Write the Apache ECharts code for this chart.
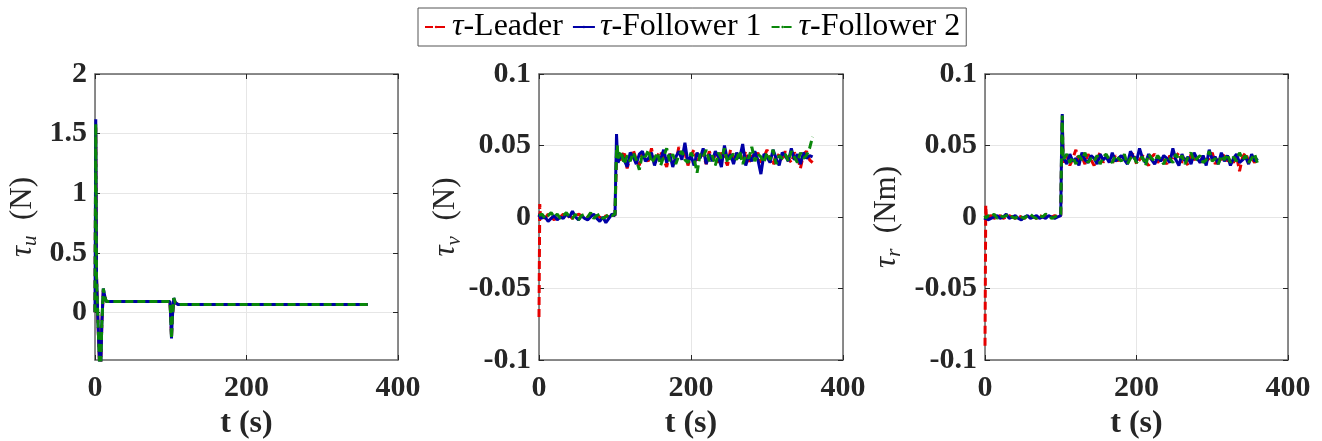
<!DOCTYPE html>
<html>
<head>
<meta charset="utf-8">
<script src="https://cdn.jsdelivr.net/npm/echarts@6.0.0/dist/echarts.min.js"></script>
<style>
  html, body { margin: 0; padding: 0; background: #fff; }
  #main { width: 1322px; height: 441px; }
</style>
</head>
<body>
<div id="main"></div>
<script>
// 图例名称
var seriesNames = ['τ-Leader', 'τ-Follower 1', 'τ-Follower 2'];

// 第一幅图: τu (N)
var tU = [0, 1, 2, 4, 7, 9, 11, 13, 15, 20, 99, 100, 101, 102, 104, 106, 110, 200, 360];
var tauU_leader = [0, 1.55, 0.3, -0.1, -0.6, -0.1, 0.19, 0.13, 0.09, 0.09, 0.09, -0.05, -0.21, -0.05, 0.11, 0.08, 0.065, 0.065, 0.065];
var tauU_f1 = [0, 1.62, 0.3, -0.1, -0.6, -0.1, 0.2, 0.13, 0.09, 0.09, 0.09, -0.05, -0.22, -0.05, 0.12, 0.08, 0.065, 0.065, 0.065];
var tauU_f2 = [0, 1.58, 0.3, -0.1, -0.6, -0.1, 0.2, 0.13, 0.09, 0.09, 0.09, -0.05, -0.22, -0.05, 0.12, 0.08, 0.065, 0.065, 0.065];
var tauU_ticks = [0, 0.5, 1, 1.5, 2];

// 第二、三幅图的时间轴 (s)
var tVR = [0, 1, 2,
  4, 8, 12, 16, 20, 24, 28, 32, 36, 40, 44, 48, 52, 56, 60, 64, 68, 72, 76, 80, 84, 88, 92, 96, 100,
  101, 102, 103,
  104, 108, 112, 116, 120, 124, 128, 132, 136, 140, 144, 148, 152, 156, 160, 164, 168, 172, 176, 180,
  184, 188, 192, 196, 200, 204, 208, 212, 216, 220, 224, 228, 232, 236, 240, 244, 248, 252, 256, 260,
  264, 268, 272, 276, 280, 284, 288, 292, 296, 300, 304, 308, 312, 316, 320, 324, 328, 332, 336, 340,
  344, 348, 352, 356, 360];

// 第二幅图: τv, 单位 mN
var tauV_leader_mN = [-70, 9, -1,
  1, -1, 2, 0, -2, 1, 0, 2, -1, 1, -1, 0, 2, 1, -1, 0, 2, -1, 1, 0, -2, 1, 0, 2, 1,
  22, 44, 47,
  44, 38, 46, 34, 42, 47, 40, 36, 45, 41, 39, 48, 37, 43, 46, 40, 35, 44, 42, 38, 49, 41, 45, 36, 43,
  47, 39, 42, 44, 37, 46, 40, 43, 38, 45, 41, 36, 47, 42, 39, 44, 40, 46, 37, 43, 41, 45, 38, 42, 47,
  40, 36, 44, 43, 39, 46, 41, 38, 45, 42, 34, 44, 46, 40, 38];
var tauV_f1_mN = [0, 2, -1,
  -2, 0, -3, -1, 1, -2, 0, -1, 2, 0, 4, 0, -2, 1, -1, -2, 0, 2, -1, -3, 0, -4, -1, 2, 1,
  30, 58, 46,
  38, 44, 40, 35, 45, 42, 37, 44, 46, 39, 41, 45, 36, 43, 40, 47, 38, 44, 35, 42, 46, 40, 52, 38, 43,
  36, 45, 41, 48, 37, 44, 39, 46, 42, 35, 50, 40, 44, 37, 45, 41, 51, 36, 43, 39, 46, 40, 30, 44, 42,
  38, 47, 41, 36, 45, 43, 39, 48, 40, 44, 37, 45, 41, 43, 42];
var tauV_f2_mN = [1, 0, 2,
  2, -1, 1, 3, 0, 2, -1, 1, 3, 0, -1, 2, -2, 1, 2, 0, 3, -1, 1, 2, -1, 0, 2, 1, 2,
  26, 47, 50,
  41, 46, 37, 43, 39, 45, 40, 33, 44, 42, 47, 38, 41, 45, 36, 42, 48, 39, 44, 37, 43, 46, 40, 38, 45,
  41, 31, 44, 42, 47, 39, 43, 36, 45, 41, 48, 38, 42, 44, 40, 46, 37, 43, 41, 49, 39, 44, 42, 38, 45,
  40, 47, 37, 43, 41, 44, 39, 46, 42, 38, 45, 41, 43, 48, 56];

// 第三幅图: τr, 单位 mNm
var tauR_leader_mNm = [-90, 8, -1,
  0, 1, -1, 0, 1, -1, 0, 1, 0, -1, 1, 0, -1, 1, 0, 0, -1, 1, 0, 1, -1, 0, 1, 0, 1,
  40, 68, 44,
  38, 43, 36, 41, 47, 39, 42, 37, 44, 40, 36, 41, 45, 38, 42, 40, 37, 43, 39, 44, 41, 38, 42, 45, 37,
  40, 43, 39, 36, 42, 44, 38, 41, 40, 37, 43, 39, 42, 45, 38, 41, 36, 44, 40, 42, 38, 43, 39, 41, 45,
  37, 42, 40, 44, 39, 41, 38, 43, 32, 42, 45, 39, 41, 38, 43];
var tauR_f1_mNm = [-2, 0, 1,
  -2, -1, 0, 1, -1, 0, 2, -1, 0, 1, -1, -2, 0, 1, -1, 0, 1, -1, 0, -1, 1, 0, -1, 0, 1,
  45, 72, 42,
  42, 37, 44, 39, 41, 36, 45, 40, 38, 43, 41, 37, 44, 40, 42, 38, 45, 39, 41, 43, 40, 37, 46, 42, 39,
  48, 41, 38, 44, 40, 37, 42, 39, 43, 41, 38, 48, 40, 36, 44, 39, 42, 37, 45, 41, 38, 43, 36, 47, 40,
  42, 37, 45, 39, 43, 36, 41, 44, 38, 40, 42, 37, 44, 39, 41];
var tauR_f2_mNm = [1, -1, 0,
  1, 0, 2, -1, 1, 0, 1, 2, 0, -1, 1, 0, -1, 1, 2, 0, -1, 1, 0, 2, 1, -1, 0, 1, 2,
  44, 71, 40,
  40, 44, 38, 42, 37, 43, 40, 45, 38, 41, 39, 43, 37, 42, 44, 40, 38, 43, 41, 39, 44, 37, 41, 43, 38,
  40, 42, 36, 44, 41, 39, 43, 40, 37, 42, 41, 38, 44, 40, 43, 37, 42, 45, 39, 41, 43, 38, 40, 46, 39,
  41, 37, 43, 40, 44, 38, 42, 39, 45, 40, 43, 38, 41, 44, 37];

var colors = ['#e60000', '#0000a6', '#0a870a'];
var lineTypes = [[8, 4], 'solid', [8, 4]];

var chartEle = echarts.init(document.getElementById('main'));

function pairs(t, v, scale) {
  return t.map(function (x, i) { return [x, v[i] * scale]; });
}

// 网格位置
var grids = [
  { left: 95, right: 924, top: 74, bottom: 81, outerBoundsMode: 'none' },
  { left: 539, right: 479, top: 74, bottom: 81, outerBoundsMode: 'none' },
  { left: 985, right: 34, top: 74, bottom: 81, outerBoundsMode: 'none' }
];

var tickFont = { fontFamily: 'Liberation Serif', fontWeight: 'bold', fontSize: 30, color: '#262626' };
var boxLine = { show: true, onZero: false, lineStyle: { color: '#666', width: 1.5 } };
var tickStyle = { show: true, inside: true, length: 5, lineStyle: { color: '#262626', width: 1 } };

function yName(sub, unit) {
  return '{t|τ}{s|' + sub + '}{n|  (' + unit + ')}';
}
var nameRich = {
  t: { fontFamily: 'Liberation Serif', fontStyle: 'italic', fontSize: 31, color: '#262626' },
  s: { fontFamily: 'Liberation Serif', fontStyle: 'italic', fontSize: 21, color: '#262626', padding: [16, 0, 0, 0] },
  n: { fontFamily: 'Liberation Serif', fontSize: 31, color: '#262626' }
};

var xAxes = [];
var yAxes = [];
var yCfg = [
  { min: -0.4, max: 2, name: yName('u', 'N'), gap: 54, custom: tauU_ticks },
  { min: -0.1, max: 0.1, interval: 0.05, name: yName('v', 'N'), gap: 74 },
  { min: -0.1, max: 0.1, interval: 0.05, name: yName('r', 'Nm'), gap: 80 }
];
grids.forEach(function (g, i) {
  xAxes.push({
    gridIndex: i, type: 'value', min: 0, max: 400, interval: 200, position: 'bottom',
    name: 't (s)', nameLocation: 'middle', nameGap: 48,
    nameTextStyle: { fontFamily: 'Liberation Serif', fontWeight: 'bold', fontSize: 32, color: '#262626' },
    axisLine: boxLine, axisTick: tickStyle,
    axisLabel: Object.assign({ margin: 13 }, tickFont),
    splitLine: { show: true, lineStyle: { color: '#e6e6e6', width: 1 } }
  });
  xAxes.push({
    gridIndex: i, type: 'value', min: 0, max: 400, interval: 200, position: 'top',
    axisLine: boxLine, axisTick: tickStyle, axisLabel: { show: false }, splitLine: { show: false }
  });
  var c = yCfg[i];
  var leftY = {
    gridIndex: i, type: 'value', min: c.min, max: c.max, position: 'left',
    name: c.name, nameLocation: 'middle', nameRotate: 90, nameGap: c.gap,
    nameTextStyle: { rich: nameRich },
    axisLine: boxLine,
    axisTick: Object.assign({}, tickStyle),
    axisLabel: Object.assign({ margin: 8 }, tickFont),
    splitLine: { show: true, lineStyle: { color: '#e6e6e6', width: 1 } }
  };
  var rightY = {
    gridIndex: i, type: 'value', min: c.min, max: c.max, position: 'right',
    axisLine: boxLine, axisTick: Object.assign({}, tickStyle), axisLabel: { show: false }, splitLine: { show: false }
  };
  if (c.custom) {
    leftY.axisTick.customValues = c.custom;
    leftY.axisLabel.customValues = c.custom;
    rightY.axisTick.customValues = c.custom;
  } else {
    leftY.interval = c.interval;
    rightY.interval = c.interval;
  }
  yAxes.push(leftY, rightY);
});

var panelData = [
  [pairs(tU, tauU_leader, 1), pairs(tU, tauU_f1, 1), pairs(tU, tauU_f2, 1)],
  [pairs(tVR, tauV_leader_mN, 0.001), pairs(tVR, tauV_f1_mN, 0.001), pairs(tVR, tauV_f2_mN, 0.001)],
  [pairs(tVR, tauR_leader_mNm, 0.001), pairs(tVR, tauR_f1_mNm, 0.001), pairs(tVR, tauR_f2_mNm, 0.001)]
];

var series = [];
panelData.forEach(function (p, gi) {
  p.forEach(function (d, si) {
    series.push({
      name: seriesNames[si], type: 'line', xAxisIndex: gi * 2, yAxisIndex: gi * 2,
      data: d, showSymbol: false, symbol: 'none', clip: true,
      lineStyle: { color: colors[si], width: 3, type: lineTypes[si] },
      itemStyle: { color: colors[si] }
    });
  });
});

var option = {
  animation: false,
  backgroundColor: '#fff',
  legend: {
    data: seriesNames,
    left: 418, top: 8,
    padding: [3, 6],
    itemGap: 9, itemWidth: 22, itemHeight: 3,
    borderColor: '#555', borderWidth: 1,
    formatter: function (name) { return '{i|τ}{n|' + name.slice(1) + '}'; },
    textStyle: {
      rich: {
        i: { fontFamily: 'Liberation Serif', fontStyle: 'italic', fontSize: 32, color: '#000' },
        n: { fontFamily: 'Liberation Serif', fontSize: 32, color: '#000' }
      }
    }
  },
  grid: grids,
  xAxis: xAxes,
  yAxis: yAxes,
  series: series
};
option && chartEle.setOption(option);
</script>
</body>
</html>
